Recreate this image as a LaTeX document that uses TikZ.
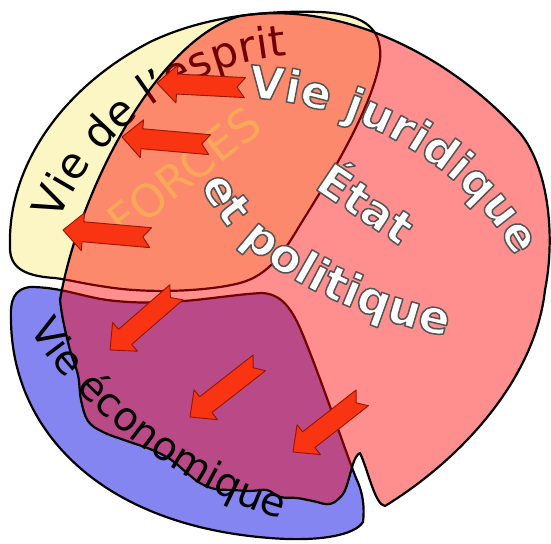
\documentclass[tikz,border=0pt]{standalone}
\usepackage{fontspec}
\setmainfont{DejaVu Sans}
\usepackage{tikz}
\usetikzlibrary{decorations.text}

\definecolor{espritjaune}{RGB}{252,246,196}
\definecolor{ecobleu}{RGB}{133,133,242}
\definecolor{droitrouge}{RGB}{255,0,0}
\definecolor{flecherouge}{RGB}{248,52,18}
\definecolor{flechebord}{RGB}{150,20,0}
\definecolor{forceorange}{RGB}{247,168,88}

\newcommand\sphtitre{\fontsize{43}{48}\selectfont}
\newcommand\sphgras{\fontsize{45}{52}\selectfont\bfseries}
\newcommand\sphpol{\fontsize{46}{52}\selectfont\bfseries}
\newcommand\sphecon{\fontsize{40}{46}\selectfont}
% lettres blanches cernees de gris (remplissage + contour)
\newcommand\cerne{\special{pdf:literal direct 0.33 G 2 Tr 1.5 w 1 j}}

% chemins des textes courbes
\def\vjpath{(248,98) .. controls (330,100) and (460,150) .. (515,258)
  .. controls (525,278) and (530,290) .. (535,310)}
\def\polpath{(201,183) .. controls (228,258) and (345,322) .. (480,342) -- (510,346)}

\tikzset{
  sphere/.style={line width=2.2pt, draw=black, line join=round},
  forcestext/.style={text=forceorange, font=\fontsize{45}{50}\selectfont},
  fleche/.pic={
    \draw[fill=flecherouge, draw=flechebord, line width=0.9pt, line join=round]
      (0,0) -- (-20,19) -- (-20,10) -- (-88,10) -- (-80,0)
      -- (-88,-10) -- (-20,-10) -- (-20,-19) -- cycle;
  }
}

\begin{document}
\begin{tikzpicture}[x=1pt, y=-1pt]
  \useasboundingbox (0,0) rectangle (551,543);

  % --- Vie de l'esprit (jaune) ---
  \filldraw[sphere, fill=espritjaune]
    (55,278) .. controls (20,276) and (9,265) .. (10,245)
    .. controls (8,170) and (58,90) .. (150,42)
    .. controls (200,18) and (260,10) .. (320,12)
    .. controls (360,14) and (383,25) .. (380,60)
    .. controls (372,110) and (325,185) .. (300,225)
    .. controls (285,250) and (270,275) .. (240,283)
    .. controls (210,291) and (150,294) .. (107,287)
    .. controls (85,284) and (70,280) .. (55,278) -- cycle;

  % --- Vie economique (bleu) ---
  \filldraw[sphere, fill=ecobleu]
    (30,287) .. controls (14,289) and (10,300) .. (11,320)
    .. controls (12,430) and (100,525) .. (270,538)
    .. controls (320,542) and (355,535) .. (363,522)
    .. controls (365,505) and (362,490) .. (356,478)
    .. controls (345,450) and (325,390) .. (305,340)
    .. controls (295,315) and (285,294) .. (262,293)
    .. controls (220,295) and (170,308) .. (107,300)
    .. controls (80,296) and (60,287) .. (30,287) -- cycle;

  % --- Texte sous le calque rouge ---
  \path[decorate, decoration={text along path,
      text={|\sphtitre|Vie de l’esprit}}]
    (59,222) .. controls (85,150) and (170,70) .. (270,58) -- (310,53);

  % --- Vie juridique (rouge transparent) ---
  \filldraw[sphere, fill=droitrouge, fill opacity=0.44]
    (240,16) .. controls (340,0) and (450,55) .. (520,133)
    .. controls (550,170) and (555,240) .. (545,290)
    .. controls (535,380) and (460,460) .. (385,506)
    .. controls (375,505) and (368,470) .. (360,453)
    .. controls (354,456) and (352,468) .. (349,478)
    -- plot[smooth, tension=0.6] coordinates {(349,478) (343,494) (330,504)
      (313,501) (297,498) (280,497) (267,490) (250,491) (233,490) (215,489)
      (200,483) (187,473) (170,459) (150,449) (127,441) (103,432) (88,421)
      (81,400) (78,375) (70,350) (63,320) (60,300)}
    .. controls (78,195) and (155,40) .. (240,16) -- cycle;

  % --- FORCES ---
  \node[forcestext, rotate=38] (forces) at (184,172) {FORCES};

  % --- Fleches ---
  \pic[rotate=177] at (157,83) {fleche};
  \pic[rotate=175] at (122,137) {fleche};
  \pic[rotate=175] at (63,230) {fleche};
  \pic[rotate=221] at (110,350) {fleche};
  \pic[rotate=218] at (190,417) {fleche};
  \pic[rotate=218] at (293,452) {fleche};

  % --- Textes blancs cernes ---
  \path[decorate, decoration={text along path,
      text color=white, text={|\sphgras\cerne|Vie juridique}}] \vjpath;
  \path[decorate, decoration={text along path,
      text color=white, text={|\sphpol\cerne|et politique}}] \polpath;
  \node[text=white, font=\sphgras, rotate=-34] (etat) at (368,200) {\cerne État};

  % --- Vie economique ---
  \path[decorate, decoration={text along path,
      text={|\sphecon|Vie économique}}]
    (30,328) .. controls (55,385) and (190,505) .. (302,523) -- (340,528);

\end{tikzpicture}
\end{document}
